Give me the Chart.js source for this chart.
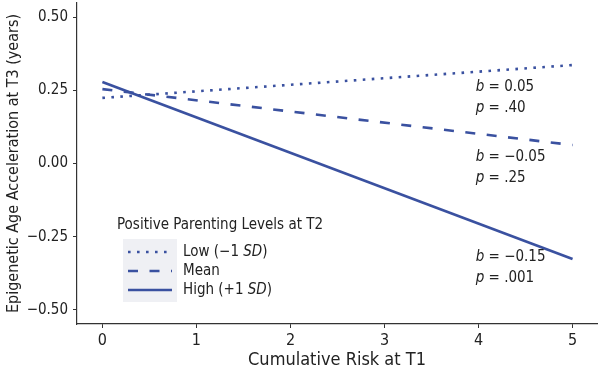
<!doctype html>
<html lang="en">
<head>
  <meta charset="utf-8">
  <title>Epigenetic Age Acceleration by Cumulative Risk</title>
  <style>
    * { margin: 0; padding: 0; }
    body { background: white; }
    .chartBox { width: 600px; height: 375px; position: relative; }
  </style>
</head>
<body>
<div class="chartBox">
  <canvas id="myChart"></canvas>
</div>

<script src="https://cdn.jsdelivr.net/npm/chart.js"></script>
<script>
  // data
  const riskX = [0, 5];
  const lowValues = [0.224, 0.336];
  const meanValues = [0.254, 0.063];
  const highValues = [0.278, -0.326];
  const seriesNames = ['Low', 'Mean', 'High'];
  const xTicks = [0, 1, 2, 3, 4, 5];
  const yTicks = [-0.5, -0.25, 0, 0.25, 0.5];
  const slopeB = ['0.05', '\u22120.05', '\u22120.15'];
  const slopeP = ['.40', '.25', '.001'];
  const slopeY = [0.261, 0.022, -0.319];

  const FONT = '"Liberation Sans Narrow", "DejaVu Sans Condensed", "Liberation Sans", sans-serif';
  const BLUE = '#3a51a0';
  const INK = '#222';

  const toPoints = (vals) => riskX.map((x, i) => ({ x, y: vals[i] }));

  // legend labels with italic SD
  const legendParts = [
    [{ t: 'Low (\u22121 ' }, { t: 'SD', i: true }, { t: ')' }],
    [{ t: 'Mean' }],
    [{ t: 'High (+1 ' }, { t: 'SD', i: true }, { t: ')' }]
  ];

  function drawParts(ctx, parts, x, y, size) {
    parts.forEach(p => {
      ctx.font = (p.i ? 'italic ' : '') + size + 'px ' + FONT;
      ctx.fillText(p.t, x, y);
      x += ctx.measureText(p.t).width;
    });
  }

  const overlay = {
    id: 'overlay',
    afterDatasetsDraw(chart) {
      const { ctx, chartArea, scales: { x, y } } = chart;
      ctx.save();
      ctx.fillStyle = INK;
      ctx.textBaseline = 'middle';
      ctx.textAlign = 'left';

      // slope annotations
      slopeB.forEach((b, i) => {
        const px = x.getPixelForValue(3.97);
        const py = y.getPixelForValue(slopeY[i]);
        drawParts(ctx, [{ t: 'b', i: true }, { t: ' = ' + b }], px, py, 15);
        drawParts(ctx, [{ t: 'p', i: true }, { t: ' = ' + slopeP[i] }], px, py + 21, 15);
      });

      // legend inside the plot
      const lx = chartArea.left + 40;
      const ly = chartArea.top + 222;
      ctx.font = '15px ' + FONT;
      ctx.fillText('Positive Parenting Levels at T2', lx, ly);
      ctx.fillStyle = '#eff0f4';
      ctx.fillRect(lx + 6, ly + 14, 54, 63);
      chart.data.datasets.forEach((ds, i) => {
        const ry = ly + 27 + i * 19;
        ctx.beginPath();
        ctx.strokeStyle = ds.borderColor;
        ctx.lineWidth = ds.borderWidth;
        ctx.lineCap = ds.borderCapStyle || 'butt';
        ctx.setLineDash(ds.borderDash || []);
        ctx.moveTo(lx + 11, ry);
        ctx.lineTo(lx + 55, ry);
        ctx.stroke();
        ctx.setLineDash([]);
        ctx.fillStyle = INK;
        drawParts(ctx, legendParts[i], lx + 66, ry, 15);
      });
      ctx.restore();
    }
  };

  const data = {
    datasets: [
      {
        label: seriesNames[0],
        data: toPoints(lowValues),
        borderColor: BLUE,
        borderWidth: 2.6,
        borderDash: [2.6, 6.4],
        borderCapStyle: 'butt'
      },
      {
        label: seriesNames[1],
        data: toPoints(meanValues),
        borderColor: BLUE,
        borderWidth: 2.6,
        borderDash: [10, 11.5],
        borderCapStyle: 'butt'
      },
      {
        label: seriesNames[2],
        data: toPoints(highValues),
        borderColor: BLUE,
        borderWidth: 2.6
      }
    ]
  };

  const config = {
    type: 'scatter',
    data,
    options: {
      responsive: true,
      maintainAspectRatio: false,
      animation: false,
      showLine: true,
      elements: { point: { radius: 0, hoverRadius: 0 } },
      layout: { padding: { top: 3, right: 3 } },
      scales: {
        x: {
          type: 'linear',
          min: -0.27,
          max: 5.26,
          afterFit: (s) => { s.height = 51; s.paddingLeft = 0; s.paddingRight = 0; },
          afterBuildTicks: (s) => { s.ticks = xTicks.map(v => ({ value: v })); },
          ticks: {
            color: INK,
            padding: 3,
            font: { family: FONT, size: 16 },
            callback: (v) => String(v)
          },
          grid: { drawOnChartArea: false, drawTicks: true, tickLength: 4, color: '#333' },
          border: { display: true, color: '#333', width: 1.2 },
          title: {
            display: true,
            text: 'Cumulative Risk at T1',
            color: INK,
            padding: { top: 0 },
            font: { family: FONT, size: 18 }
          }
        },
        y: {
          min: -0.548,
          max: 0.548,
          afterFit: (s) => { s.width = 77; s.paddingTop = 0; s.paddingBottom = 0; },
          afterBuildTicks: (s) => { s.ticks = yTicks.map(v => ({ value: v })); },
          ticks: {
            color: INK,
            padding: 5,
            font: { family: FONT, size: 15 },
            callback: (v) => (v < 0 ? '\u2212' : '') + Math.abs(v).toFixed(2)
          },
          grid: { drawOnChartArea: false, drawTicks: true, tickLength: 4, color: '#333' },
          border: { display: true, color: '#333', width: 1.2 },
          title: {
            display: true,
            text: 'Epigenetic Age Acceleration at T3 (years)',
            color: INK,
            padding: { bottom: 2 },
            font: { family: FONT, size: 16 }
          }
        }
      },
      plugins: {
        legend: { display: false },
        tooltip: { enabled: false }
      }
    },
    plugins: [overlay]
  };

  new Chart(document.getElementById('myChart'), config);
</script>
</body>
</html>
